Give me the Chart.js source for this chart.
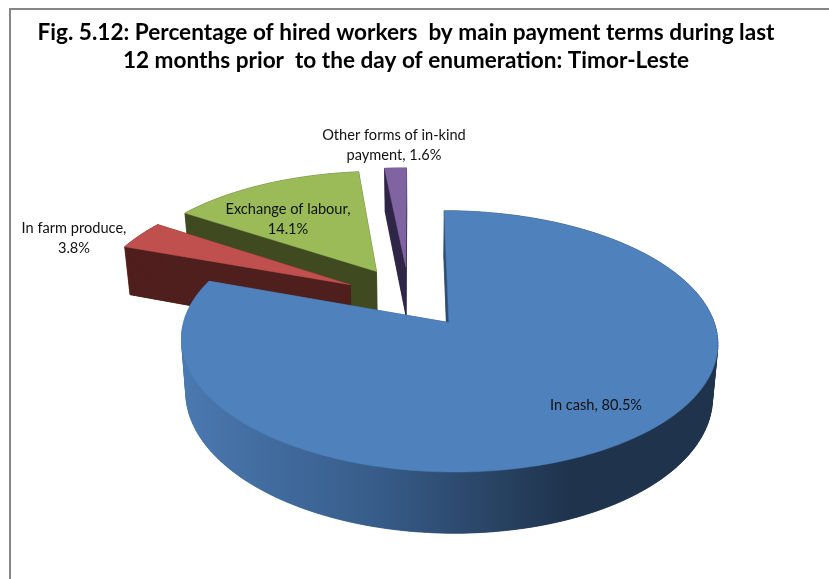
<!DOCTYPE html>
<html>
<head>
<meta charset="utf-8">
<style>
  html, body { margin: 0; padding: 0; background: #fff; }
  #wrap { position: relative; width: 829px; height: 579px; overflow: hidden; }
  #frame { position: absolute; left: 9px; top: 8px; width: 900px; height: 700px; border: 2px solid #868686; }
  canvas { position: absolute; left: 0; top: 0; }
</style>
</head>
<body>
<div id="wrap">
  <div id="frame"></div>
  <canvas id="pieChart" width="829" height="579"></canvas>
</div>
<script src="https://cdn.jsdelivr.net/npm/chart.js@4"></script>
<script>
// Chart data
const categories = ['In cash', 'In farm produce', 'Exchange of labour', 'Other forms of in-kind payment'];
const shares = [80.5, 3.8, 14.1, 1.6];
const titleLines = [
    'Fig. 5.12: Percentage of hired workers  by main payment terms during last',
    '12 months prior  to the day of enumeration: Timor-Leste'
];

// Colours: top face, wall
const topColors = ['#4f81bd', '#c0504d', '#9bbb59', '#8064a2'];
const wallColors = ['#2a4464', '#4f1f1d', '#3f4a20', '#2f2547'];

// How far each slice is pulled out, in pie radii (across, towards viewer)
const pulls = [[0.139, 0.184], [-0.243, -0.125], [-0.142, -0.24], [-0.025, -0.28]];

// Label position and where the text breaks
const labelSpots = [
    { x: 596, y: 405, split: false },
    { x: 74, y: 228, split: true },
    { x: 288, y: 209, split: true },
    { x: 394, y: 135, split: true }
];

// 3D view of the pie plane
const view = { cx: 412, cy: 299.6, gx: 258.5, gy: 121.4, persp: 0.1405, depth: 51, shrink: 0.982 };

function project(u, v, low) {
    const den = 1 - view.persp * v;
    let x = view.cx + view.gx * u / den;
    let y = view.cy + view.gy * v / den;
    if (low) {
        x = view.cx + 8 + (x - view.cx - 8) * view.shrink;
        y += view.depth / den;
    }
    return [x, y];
}

// Points around one slice. Chart.js angles start at 3 o'clock and run clockwise
function sliceOutline(arc, i, low) {
    const ou = pulls[i][0];
    const ov = pulls[i][1];
    const steps = Math.max(4, Math.ceil((arc.endAngle - arc.startAngle) * 40));
    const pts = [];
    for (let s = 0; s <= steps; s++) {
        const a = arc.startAngle + (arc.endAngle - arc.startAngle) * s / steps;
        pts.push(project(ou + Math.cos(a), ov + Math.sin(a), low));
    }
    return { apex: project(ou, ov, low), rim: pts };
}

function fillPath(ctx, pts, fill) {
    ctx.beginPath();
    pts.forEach((p, n) => n ? ctx.lineTo(p[0], p[1]) : ctx.moveTo(p[0], p[1]));
    ctx.closePath();
    ctx.fillStyle = fill;
    ctx.fill();
    ctx.strokeStyle = fill;
    ctx.lineWidth = 0.5;
    ctx.stroke();
}

const pie3d = {
    id: 'pie3d',
    beforeDatasetsDraw(chart) {
        const ctx = chart.ctx;
        const arcs = chart.getDatasetMeta(0).data;
        ctx.save();
        // back to front
        [3, 2, 1, 0].forEach(i => {
            const top = sliceOutline(arcs[i], i, false);
            const low = sliceOutline(arcs[i], i, true);
            let wall = wallColors[i];
            if (i === 0) {
                wall = ctx.createLinearGradient(185, 0, 570, 0);
                wall.addColorStop(0, '#4a78b0');
                wall.addColorStop(0.5, '#375c89');
                wall.addColorStop(1, '#1f334c');
            }
            fillPath(ctx, [low.apex, ...low.rim], wall);
            fillPath(ctx, [top.apex, top.rim[0], low.rim[0], low.apex], wall);
            const last = top.rim.length - 1;
            fillPath(ctx, [top.apex, top.rim[last], low.rim[last], low.apex], wall);
            top.rim.forEach((p, n) => {
                if (n < last) fillPath(ctx, [p, top.rim[n + 1], low.rim[n + 1], low.rim[n]], wall);
            });
            fillPath(ctx, [top.apex, ...top.rim], topColors[i]);
        });
        ctx.restore();
        return false;
    },
    afterDraw(chart) {
        const ctx = chart.ctx;
        ctx.save();
        ctx.font = '14.6px Lato';
        ctx.fillStyle = '#111';
        ctx.textAlign = 'center';
        ctx.textBaseline = 'middle';
        categories.forEach((name, i) => {
            const spot = labelSpots[i];
            const text = name + ', ' + shares[i].toFixed(1) + '%';
            if (!spot.split) {
                ctx.fillText(text, spot.x, spot.y);
                return;
            }
            // last word goes on the second line, except for the long one
            const words = text.split(' ');
            const cut = i === 3 ? words.length - 2 : words.length - 1;
            ctx.fillText(words.slice(0, cut).join(' '), spot.x, spot.y);
            ctx.fillText(words.slice(cut).join(' '), spot.x, spot.y + 20);
        });
        ctx.restore();
    }
};

window.onload = function() {
    new Chart(document.getElementById('pieChart'), {
        type: 'pie',
        data: {
            labels: categories,
            datasets: [{ data: shares, backgroundColor: topColors, borderWidth: 0 }]
        },
        options: {
            responsive: false,
            animation: false,
            layout: { padding: { top: 9, right: 17 } },
            plugins: {
                legend: { display: false },
                tooltip: { enabled: false },
                title: {
                    display: true,
                    text: titleLines,
                    color: '#000',
                    font: { family: 'Lato', size: 22.6, weight: 'bold', lineHeight: 1.22 },
                    padding: { top: 10, bottom: 0 }
                }
            }
        },
        plugins: [pie3d]
    });
};
</script>
</body>
</html>
